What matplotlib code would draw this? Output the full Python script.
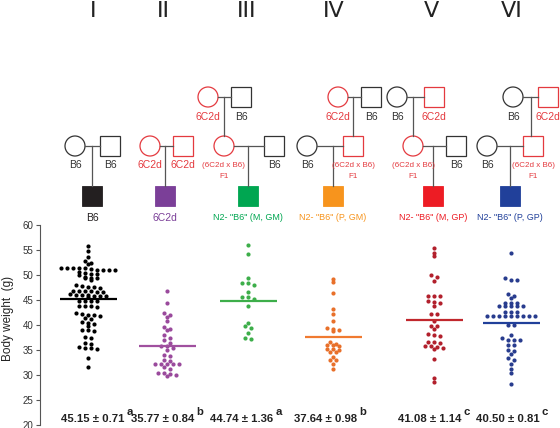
"""
Body weight of the six mouse groups: pedigree icons on top,
column scatter with group means underneath.
"""

import matplotlib.pyplot as plt
import numpy as np
from matplotlib.patches import Circle, Rectangle

# ---------------------------------------------------------------------------
# Data
# ---------------------------------------------------------------------------
groups = ["I", "II", "III", "IV", "V", "VI"]
offspring = ["B6", "6C2d", 'N2- "B6" (M, GM)', 'N2- "B6" (P, GM)',
             'N2- "B6" (M, GP)', 'N2- "B6" (P, GP)']

weights_I = [55.8, 54.9, 53.7, 52.8, 52.5, 52.2,
             51.5, 51.4, 51.2, 51.0, 51.5, 51.4, 51.0, 51.1, 51.1, 51.4,
             50.3, 50.0, 50.4, 50.2, 50.6,
             49.5, 49.0, 49.4, 49.5, 49.6,
             48.0, 47.7, 47.5, 47.7, 47.9,
             46.9, 46.7, 46.8, 46.6, 46.9, 46.8,
             46.1, 46.0, 46.2, 46.1,
             45.8, 45.6, 45.8, 45.9,
             44.9, 44.9, 44.9, 44.8,
             43.9, 43.8, 43.7, 43.9,
             42.4, 42.2, 41.9, 42.1, 42.1,
             41.4, 41.3,
             40.6, 40.4, 40.3, 39.9,
             39.0, 38.8, 39.0,
             37.5, 37.6,
             36.2, 36.4,
             35.4, 35.2, 35.4, 35.6,
             33.4, 31.6]
weights_II = [46.9, 44.5, 42.5, 42.1, 41.7, 40.9, 39.7, 39.3, 39.0, 38.0,
              37.5, 37.0, 36.5, 35.9, 35.9, 35.4, 35.0, 34.1, 33.8, 33.0,
              32.8, 32.3, 32.3, 32.3, 32.2, 32.3, 31.6, 31.3, 30.5, 30.3,
              30.5, 30.0, 29.8]
weights_III = [56.0, 54.3, 49.5, 48.5, 48.5, 48.1, 46.7, 45.6, 45.7, 45.3,
               43.9, 40.5, 39.8, 39.4, 38.4, 37.2, 37.4]
weights_IV = [49.2, 48.6, 46.4, 43.3, 42.3, 40.9, 39.3, 38.8, 39.1, 39.4,
              36.7, 36.2, 36.1, 35.9, 36.1, 35.3, 35.0, 34.6, 34.7, 35.3,
              33.7, 33.1, 33.0, 32.3, 31.3]
weights_V = [55.4, 54.5, 53.8, 50.1, 49.7, 48.9, 45.8, 45.9, 45.9,
             44.7, 43.8, 44.5, 44.9, 42.3, 42.2, 40.8, 39.8, 39.3, 39.9,
             38.3, 37.8, 38.1, 36.7, 36.5, 36.7, 35.9, 35.7, 35.3, 35.4,
             35.9, 33.3, 28.6, 29.4]
weights_VI = [54.5, 49.0, 49.0, 49.5, 46.2, 45.5, 45.8, 44.5, 44.5, 44.5,
              43.8, 43.8, 43.8, 43.8, 43.8, 42.7, 42.7, 42.7,
              41.8, 41.8, 41.8, 41.8, 41.8, 41.8, 41.8, 41.8, 41.8,
              40.1, 40.1, 38.1, 37.5, 37.0, 37.0, 37.0, 36.0, 36.0,
              34.3, 34.8, 35.0, 33.5, 33.1, 32.3, 31.2, 30.5, 28.2]
weights = [weights_I, weights_II, weights_III, weights_IV, weights_V, weights_VI]

means = [45.15, 35.77, 44.74, 37.64, 41.08, 40.50]
sems = [0.71, 0.84, 1.36, 0.98, 1.14, 0.81]
letters = ["a", "b", "a", "b", "c", "c"]

# ---------------------------------------------------------------------------
# Layout / style (pixel units, figure is 560 x 428)
# ---------------------------------------------------------------------------
W, H = 560, 428
R = 10                      # half size of pedigree symbols
RED = "#e43a3f"
DARK = "#333333"
LINE = "#555555"
fill_colors = ["#231f20", "#7b3f98", "#00a651", "#f7941d", "#ed1c24", "#21409a"]
dot_colors = ["#000000", "#9a4a9c", "#3dae4a", "#e8702a", "#b2202c", "#283c8e"]
mean_colors = ["#000000", "#a0509f", "#3dae4a", "#f07a30", "#c1272d", "#21409a"]

scatter_x = [88, 167, 248, 333, 434, 511]
roman_x = [93, 163, 247, 334, 431, 512]
stat_x = [93, 163, 242, 326, 430, 508]
child_x = [92, 165, 248, 333, 433, 510]

# second generation: (circle x, square x, circle red?, square red?, labels)
second_gen = [
    (75, 110, False, False, "B6", "B6"),
    (150, 183, True, True, "6C2d", "6C2d"),
    (224, 274, True, False, "F1", "B6"),
    (307, 353, False, True, "B6", "F1"),
    (413, 456, True, False, "F1", "B6"),
    (487, 533, False, True, "B6", "F1"),
]
# first generation: (circle x, square x, circle red?, square red?, labels, drop x)
first_gen = [
    None,
    None,
    (208, 241, True, False, "6C2d", "B6", 224),
    (338, 371, True, False, "6C2d", "B6", 353),
    (397, 434, False, True, "B6", "6C2d", 413),
    (513, 548, False, True, "B6", "6C2d", 531),
]

FONT = "Liberation Sans"


def swarm(values, center, dy=0.5, dx=6.0):
    """Simple column-scatter layout: points of similar value share a row."""
    v = np.sort(np.asarray(values))[::-1]
    rows, current = [], [v[0]]
    for val in v[1:]:
        if current[0] - val <= dy:
            current.append(val)
        else:
            rows.append(current)
            current = [val]
    rows.append(current)
    xs, ys = [], []
    for row in rows:
        offs = (np.arange(len(row)) - (len(row) - 1) / 2) * dx
        xs.extend(center + offs)
        ys.extend(row)
    return xs, ys


def label(ax, x, y, text, red):
    if text == "F1":
        ax.text(x, y, "(6C2d x B6)", fontsize=5.8, color=RED,
                ha="center", va="center", family=FONT)
        ax.text(x, y + 11, "F1", fontsize=5.8, color=RED,
                ha="center", va="center", family=FONT)
    else:
        ax.text(x, y, text, fontsize=7.5, color=RED if red else DARK,
                ha="center", va="center", family=FONT)


def parent_pair(ax, y, xf, xm, red_f, red_m, lab_f, lab_m):
    ax.plot([xf + R, xm - R], [y, y], color=LINE, lw=0.9)
    ax.add_patch(Circle((xf, y), R, fill=False,
                        ec=RED if red_f else DARK, lw=0.9))
    ax.add_patch(Rectangle((xm - R, y - R), 2 * R, 2 * R, fill=False,
                           ec=RED if red_m else DARK, lw=0.9))
    label(ax, xf, y + 19.5, lab_f, red_f)
    label(ax, xm, y + 19.5, lab_m, red_m)


fig = plt.figure(figsize=(W / 100, H / 100), dpi=100)

# overlay in pixel coordinates for the pedigrees and text
ax0 = fig.add_axes([0, 0, 1, 1])
ax0.set_xlim(0, W)
ax0.set_ylim(H, 0)
ax0.axis("off")

Y_TOP, Y_MID, Y_CHILD = 97, 146, 196
for i in range(len(groups)):
    ax0.text(roman_x[i], 17, groups[i], fontsize=16, color="#222222",
             ha="center", va="baseline", family="DejaVu Sans")

    top = first_gen[i]
    if top is not None:
        xf, xm, rf, rm, lf, lm, xd = top
        parent_pair(ax0, Y_TOP, xf, xm, rf, rm, lf, lm)
        ax0.plot([xd, xd], [Y_TOP, Y_MID - R], color=LINE, lw=0.9)

    xf, xm, rf, rm, lf, lm = second_gen[i]
    parent_pair(ax0, Y_MID, xf, xm, rf, rm, lf, lm)
    cx = child_x[i]
    ax0.plot([cx, cx], [Y_MID, Y_CHILD - R], color=LINE, lw=0.9)
    ax0.add_patch(Rectangle((cx - R, Y_CHILD - R), 2 * R, 2 * R,
                            fc=fill_colors[i], ec=fill_colors[i], lw=0.6))
    ax0.text(cx, 217.5, offspring[i], fontsize=6.5 if i > 1 else 7.5,
             color=fill_colors[i], ha="center", va="center", family=FONT)

# scatter panel: x in pixel units, y in grams
ax = fig.add_axes([40 / W, (H - 425) / H, (W - 40) / W, 200 / H])
ax.set_facecolor("none")
ax.set_xlim(40, W)
ax.set_ylim(20, 60)
for i, vals in enumerate(weights):
    xs, ys = swarm(vals, scatter_x[i])
    ax.scatter(xs, ys, s=9, color=dot_colors[i], linewidths=0, zorder=3)
    ax.plot([scatter_x[i] - 28.5, scatter_x[i] + 28.5], [means[i], means[i]],
            color=mean_colors[i], lw=1.6, solid_capstyle="butt", zorder=4)

    t = ax.text(stat_x[i], 21.3, f"{means[i]:.2f} ± {sems[i]:.2f}",
                fontsize=8.2, fontweight="bold", color="#222222",
                ha="center", va="center", family=FONT)
    ax.annotate(letters[i], xy=(1, 0.5), xycoords=t, xytext=(1.2, 5),
                textcoords="offset points", ha="left", va="center",
                fontsize=8.2, fontweight="bold", color="#222222", family=FONT)

for side in ["top", "right", "bottom"]:
    ax.spines[side].set_visible(False)
ax.spines["left"].set_color("#555555")
ax.spines["left"].set_linewidth(0.8)
ax.set_xticks([])
ax.set_yticks(np.arange(20, 61, 5))
ax.tick_params(axis="y", length=3, width=0.8, color="#555555", pad=1.5,
               labelsize=7, labelcolor="#333333")
for lab in ax.get_yticklabels():
    lab.set_family(FONT)

fig.text(8 / W, 1 - 318 / H, "Body weight  (g)", rotation=90, fontsize=8.5,
         color="#222222", ha="center", va="center", family=FONT)

fig.savefig("out.png", dpi=100)
